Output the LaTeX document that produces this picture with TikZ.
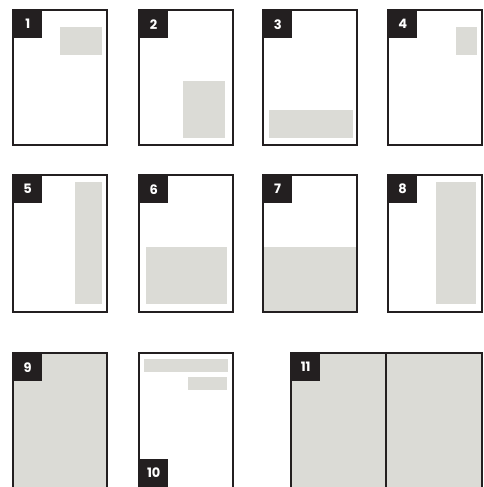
\documentclass[tikz,border=0pt]{standalone}
\usepackage{fontspec}
\setsansfont{Poppins}
\definecolor{paper}{HTML}{DBDBD6}
\definecolor{ink}{HTML}{231F20}
\begin{document}
\begin{tikzpicture}
[
    x=1pt, y=-1pt,
    page/.style={draw=ink, line width=1.2pt},
    block/.style={fill=paper},
    tag/.style={fill=ink, text=white, anchor=north west, inner sep=0pt,
        minimum width=29pt, minimum height=28pt,
        font=\sffamily\bfseries\fontsize{13}{13}\selectfont}
]
    \clip (0,0) rectangle (483,487);

    % grey blocks
    \fill [block] (60,27) rectangle (102,55);
    \fill [block] (183,81) rectangle (225,138);
    \fill [block] (269,110) rectangle (353,138);
    \fill [block] (456,27) rectangle (477,55);
    \fill [block] (75,182) rectangle (102,304);
    \fill [block] (146,247) rectangle (227,304);
    \fill [block] (263,247) rectangle (357,312);
    \fill [block] (436,182) rectangle (476,304);
    \fill [block] (13,353) rectangle (107,495);
    \fill [block] (144,359) rectangle (228,372);
    \fill [block] (188,377) rectangle (227,390);
    \fill [block] (291,353) rectangle (482,495);

    % pages
    \foreach \x in {13,139,263,388} {
        \draw [page] (\x,10) rectangle +(94,135);
        \draw [page] (\x,175) rectangle +(94,137);
    }
    \draw [page] (13,353) rectangle (107,495);
    \draw [page] (139,353) rectangle (233,495);
    \draw [page] (291,353) rectangle (482,495);
    \draw [page] (386,353) -- (386,495);

    % numbers
    \node [tag] (t1) at (13,10) {1};
    \node [tag] (t2) at (139,10) {2};
    \node [tag] (t3) at (263,10) {3};
    \node [tag] (t4) at (388,10) {4};
    \node [tag] (t5) at (13,175) {5};
    \node [tag] (t6) at (139,175) {6};
    \node [tag] (t7) at (263,175) {7};
    \node [tag] (t8) at (388,175) {8};
    \node [tag] (t9) at (13,353) {9};
    \node [tag, anchor=south west] (t10) at (139,487) {10};
    \node [tag] (t11) at (291,353) {11};
\end{tikzpicture}
\end{document}
